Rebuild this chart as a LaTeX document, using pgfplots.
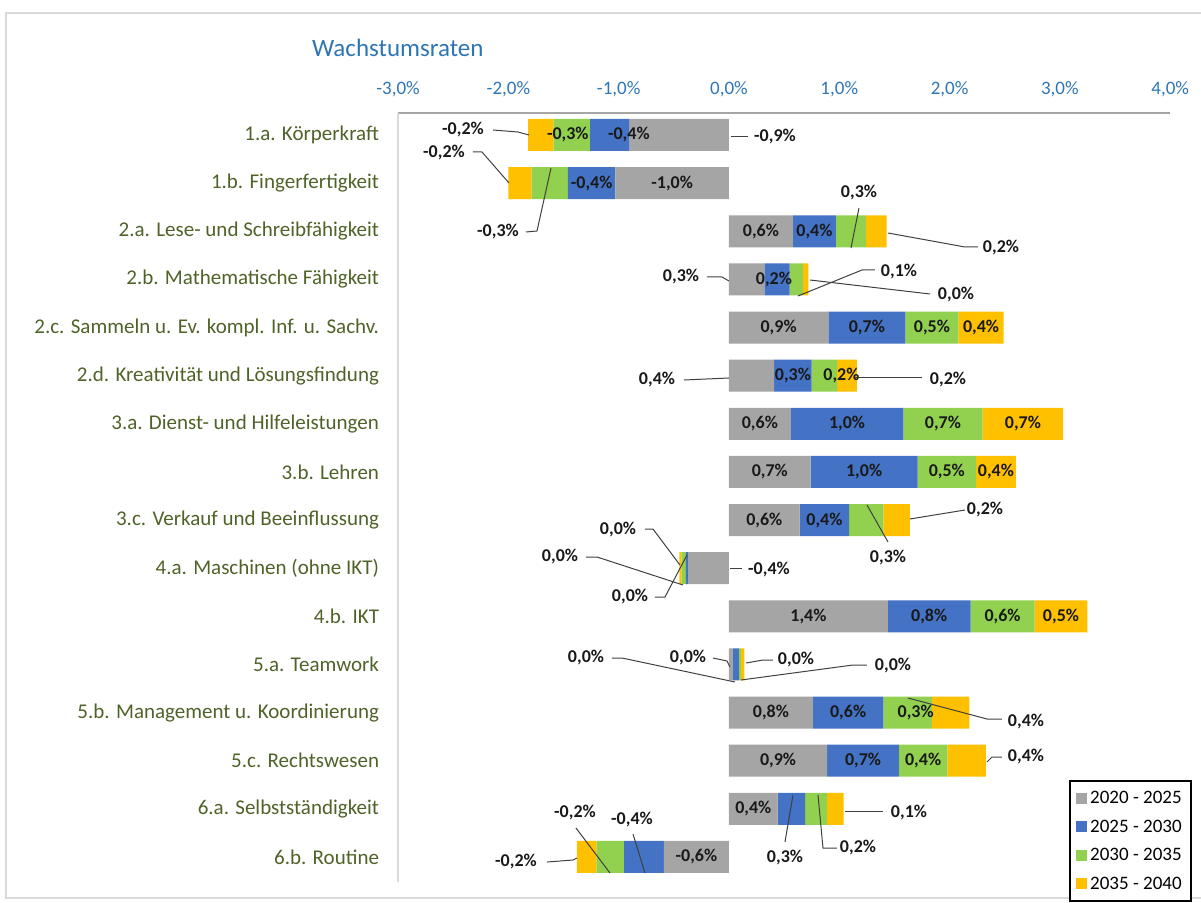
\documentclass[border=0pt]{standalone}
\usepackage{pgfplots}
\pgfplotsset{compat=1.18}
\usepackage{pgfplotstable}
\usepackage{fontspec}
\setmainfont{Carlito}
\definecolor{cgray}{HTML}{A5A5A5}
\definecolor{cblue}{HTML}{4472C4}
\definecolor{cgreen}{HTML}{92D050}
\definecolor{cyellow}{HTML}{FFC000}
\definecolor{catgreen}{HTML}{4F6228}
\definecolor{tickblue}{HTML}{2E75B6}

% values in percent, four periods; labels shown inside the bars; d = small label offsets (px)
\pgfplotstableread[col sep=semicolon]{
y;g1;g2;g3;g4;l1;l2;l3;l4;d1;d2;d3;d4
0;-0.90;-0.36;-0.33;-0.23;{};-0,4\%;-0,3\%;{};0;19;-4;0
-1;-1.03;-0.43;-0.33;-0.21;-1,0\%;-0,4\%;{};{};0;0;0;0
-2;0.58;0.39;0.27;0.19;0,6\%;0,4\%;{};{};0;0;0;0
-3;0.32;0.23;0.12;0.05;{};0,2\%;{};{};0;-3;0;0
-4;0.90;0.70;0.48;0.41;0,9\%;0,7\%;0,5\%;0,4\%;0;0;0;0
-5;0.41;0.34;0.23;0.18;{};0,3\%;0,2\%;{};0;0;17;0
-6;0.56;1.02;0.72;0.73;0,6\%;1,0\%;0,7\%;0,7\%;0;0;0;0
-7;0.74;0.97;0.53;0.36;0,7\%;1,0\%;0,5\%;0,4\%;0;0;0;0
-8;0.64;0.45;0.31;0.24;0,6\%;0,4\%;{};{};0;0;0;0
-9;-0.37;-0.02;-0.04;-0.02;{};{};{};{};0;0;0;0
-10;1.44;0.75;0.58;0.48;1,4\%;0,8\%;0,6\%;0,5\%;0;0;0;0
-11;0.035;0.055;0.02;0.03;{};{};{};{};0;0;0;0
-12;0.76;0.64;0.44;0.34;0,8\%;0,6\%;0,3\%;{};0;0;8;0
-13;0.89;0.65;0.44;0.35;0,9\%;0,7\%;0,4\%;{};0;0;0;0
-14;0.44;0.25;0.20;0.15;0,4\%;{};{};{};0;0;0;0
-15;-0.59;-0.36;-0.25;-0.18;-0,6\%;{};{};{};0;0;0;0
}\data

\begin{document}
\begin{tikzpicture}[
  px/.style={shift={(-364.5pt,67.5pt)},x=0.5pt,y=-0.5pt},
  lab/.style={font=\bfseries\fontsize{9}{10}\selectfont, inner sep=0pt, text=black!90},
  ld/.style={draw=black!75, line width=0.5pt}]
\begin{scope}[px]
\useasboundingbox (0,0) rectangle (1201,900);
\draw[black!15, line width=0.8pt] (6,13) rectangle (1220,898);
\end{scope}
\begin{axis}[
  at={(0,0)}, anchor=origin,
  x=55.15pt, y=24.065pt,
  xmin=-3, xmax=4, ymin=-15.52, ymax=0.46,
  enlarge x limits=false, enlarge y limits=false,
  xbar stacked, bar width=16pt,
  clip=false,
  axis x line*=top, axis y line*=left,
  axis line style={-},
  x axis line style={draw=black!35, line width=0.8pt},
  y axis line style={draw=black!15, line width=0.8pt},
  major tick length=0pt,
  xtick={-3,-2,-1,0,1,2,3,4},
  xticklabels={{-3,0\%},{-2,0\%},{-1,0\%},{0,0\%},{1,0\%},{2,0\%},{3,0\%},{4,0\%}},
  xticklabel style={font=\fontsize{9.5}{11}\selectfont, text=tickblue, yshift=4.5pt},
  ytick={0,-1,...,-15},
  yticklabels={{1.a. Körperkraft},{1.b. Fingerfertigkeit},{2.a. Lese- und Schreibfähigkeit},{2.b. Mathematische Fähigkeit},{2.c. Sammeln u. Ev. kompl. Inf. u. Sachv.},{2.d. Kreativität und Lösungsfindung},{3.a. Dienst- und Hilfeleistungen},{3.b. Lehren},{3.c. Verkauf und Beeinflussung},{4.a. Maschinen (ohne IKT)},{4.b. IKT},{5.a. Teamwork},{5.b. Management u. Koordinierung},{5.c. Rechtswesen},{6.a. Selbstständigkeit},{6.b. Routine}},
  yticklabel style={font=\fontsize{10.5}{12}\selectfont, text=catgreen, xshift=-6pt},
  /pgf/number format/assume math mode=true,
  nodes near coords,
  point meta=explicit symbolic,
  nodes near coords style={anchor=center, inner sep=0pt, font=\bfseries\fontsize{9}{10}\selectfont, text=black!90, xshift={(\dx)*0.5pt}},
  legend image code/.code={\draw[#1, draw=none] (0pt,-2.75pt) rectangle (5.5pt,2.75pt);},
  legend cell align=left,
  legend style={at={(rel axis cs:0.8692,0.1326)}, anchor=north west, draw=black, line width=1pt,
    font=\fontsize{9.5}{11}\selectfont, inner xsep=3pt, inner ysep=3pt, row sep=2.7pt,
    nodes={inner sep=1.5pt, text height=7pt, text depth=1.5pt}},
]
\addplot[fill=cgray, draw=none, visualization depends on={\thisrow{d1} \as \dx}] table[x=g1, y=y, meta=l1] {\data};
\addplot[fill=cblue, draw=none, visualization depends on={\thisrow{d2} \as \dx}] table[x=g2, y=y, meta=l2] {\data};
\addplot[fill=cgreen, draw=none, visualization depends on={\thisrow{d3} \as \dx}] table[x=g3, y=y, meta=l3] {\data};
\addplot[fill=cyellow, draw=none, visualization depends on={\thisrow{d4} \as \dx}] table[x=g4, y=y, meta=l4] {\data};
\legend{2020 - 2025, 2025 - 2030, 2030 - 2035, 2035 - 2040}
\end{axis}
\begin{scope}[px]
\node[anchor=west, font=\fontsize{12.5}{14}\selectfont, text=tickblue] at (305,48) {Wachstumsraten};
% row 1
\node[lab] at (463,130) {-0,2\%}; \draw[ld] (493,130)--(518,132)--(529,135);
\node[lab] at (775,137) {-0,9\%}; \draw[ld] (731,137)--(748,137);
% row 2
\node[lab] at (444,153) {-0,2\%}; \draw[ld] (473,152)--(482,152)--(509,183);
\node[lab] at (498,232) {-0,3\%}; \draw[ld] (526,232)--(537,231)--(551,168);
% row 3
\node[lab] at (859,193) {0,3\%}; \draw[ld] (859,208)--(851,248);
\node[lab] at (1001,248) {0,2\%}; \draw[ld] (888,233)--(965,247)--(978,247);
% row 4
\node[lab] at (681,277) {0,3\%}; \draw[ld] (707,277)--(722,277)--(729,281);
\node[lab] at (899,272) {0,1\%}; \draw[ld] (875,270)--(862,270)--(798,296);
\node[lab] at (956,295) {0,0\%}; \draw[ld] (810,280)--(930,294);
% row 6
\node[lab] at (657,380) {0,4\%}; \draw[ld] (684,380)--(729,378);
\node[lab] at (948,380) {0,2\%}; \draw[ld] (855,378)--(922,378);
% row 9
\node[lab] at (888,558) {0,3\%}; \draw[ld] (867,505)--(888,542);
\node[lab] at (985,510) {0,2\%}; \draw[ld] (910,519)--(965,510);
% row 10
\node[lab] at (769,570) {-0,4\%}; \draw[ld] (730,568)--(742,568);
\node[lab] at (618,530) {0,0\%}; \draw[ld] (645,529)--(653,529)--(680,565);
\node[lab] at (560,557) {0,0\%}; \draw[ld] (586,557)--(597,557)--(683,585);
\node[lab] at (630,597) {0,0\%}; \draw[ld] (655,597)--(665,597)--(687,555);
% row 12
\node[lab] at (586,658) {0,0\%}; \draw[ld] (612,658)--(622,658)--(735,682);
\node[lab] at (688,658) {0,0\%}; \draw[ld] (713,658)--(727,661)--(730,667);
\node[lab] at (796,660) {0,0\%}; \draw[ld] (773,660)--(763,660)--(746,663);
\node[lab] at (893,666) {0,0\%}; \draw[ld] (867,665)--(853,665)--(741,680);
% row 13
\node[lab] at (1026,722) {0,4\%}; \draw[ld] (908,698)--(987,719)--(1002,719);
% row 14
\node[lab] at (1026,757) {0,4\%}; \draw[ld] (987,762)--(992,757)--(1002,757);
% row 15
\node[lab] at (909,813) {0,1\%}; \draw[ld] (845,811)--(883,811);
\node[lab] at (785,858) {0,3\%}; \draw[ld] (785,842)--(793,795);
\node[lab] at (858,848) {0,2\%}; \draw[ld] (837,848)--(823,848)--(818,795);
% row 16
\node[lab] at (516,862) {-0,2\%}; \draw[ld] (547,862)--(573,860)--(577,858);
\node[lab] at (575,813) {-0,2\%}; \draw[ld] (576,828)--(610,873);
\node[lab] at (632,820) {-0,4\%}; \draw[ld] (633,834)--(645,873);
\end{scope}
\end{tikzpicture}
\end{document}
